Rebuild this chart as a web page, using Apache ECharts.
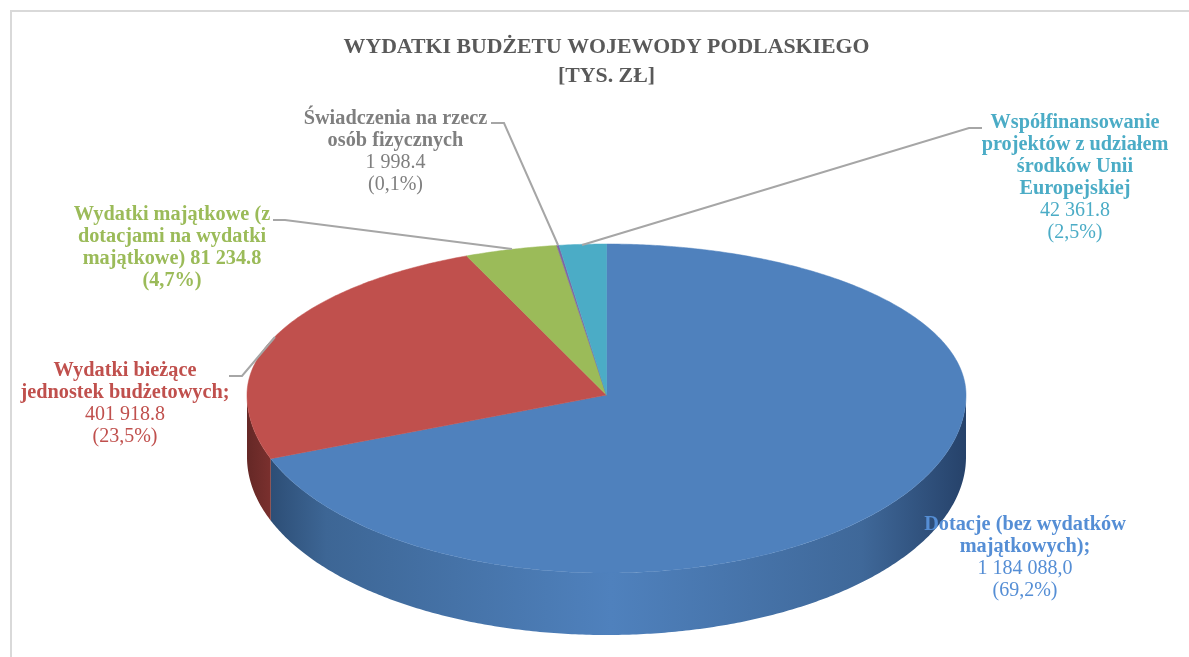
<!DOCTYPE html>
<html>
<head>
    <meta charset="utf-8">
    <title>Wydatki budżetu wojewody podlaskiego</title>
    <script src="https://cdn.jsdelivr.net/npm/echarts@6/dist/echarts.min.js"></script>
    <style>
        html, body { margin: 0; padding: 0; background: #fff; }
    </style>
</head>
<body>
    <div id="main" style="width:1189px;height:657px;"></div>
    <script type="text/javascript">
        var titleText = 'WYDATKI BUDŻETU WOJEWODY PODLASKIEGO\n[TYS. ZŁ]';

        // dane
        var categories = ['Dotacje', 'Wydatki bieżące', 'Wydatki majątkowe', 'Świadczenia', 'Współfinansowanie'];
        var values = [1184088.0, 401918.8, 81234.8, 1998.4, 42361.8];
        var boldLines = [
            ['Dotacje (bez wydatków', 'majątkowych);'],
            ['Wydatki bieżące', 'jednostek budżetowych;'],
            ['Wydatki majątkowe (z', 'dotacjami na wydatki', 'majątkowe) 81 234.8', '(4,7%)'],
            ['Świadczenia na rzecz', 'osób fizycznych'],
            ['Współfinansowanie', 'projektów z udziałem', 'środków Unii', 'Europejskiej']
        ];
        var plainLines = [
            ['1 184 088,0', '(69,2%)'],
            ['401 918.8', '(23,5%)'],
            [],
            ['1 998.4', '(0,1%)'],
            ['42 361.8', '(2,5%)']
        ];

        // kolory
        var sliceColors = ['#4F81BD', '#C0504D', '#9BBB59', '#8064A2', '#4BACC6'];
        var labelColors = ['#558ED5', '#C0504D', '#9BBB59', '#7F7F7F', '#4BACC6'];
        var sideStops = [
            [[0, '#2D4E76'], [0.08, '#3D6695'], [0.49, '#4F81BD'], [0.85, '#3F6899'], [1, '#26426A']],
            [[0, '#652826'], [1, '#7A302E']],
            [[0, '#6E8838'], [1, '#6E8838']],
            [[0, '#5C4776'], [1, '#5C4776']],
            [[0, '#2F7F95'], [1, '#2F7F95']]
        ];

        // układ: środek koła, promienie elipsy, grubość, skrót perspektywy z tyłu
        var cx = 606.5, cy = 395, rx = 359.5, ryTop = 151, ryBottom = 178, depth = 62, farSqueeze = 0.85;

        // pozycje podpisów (środek, pierwsza linia) i linii odniesienia
        var labelX = [1025, 125, 172, 395.5, 1075];
        var labelY = [525, 371, 215, 119, 123];
        var lineStep = 22;
        var leaders = [
            [],
            [[229, 376], [242, 376], [275, 337]],
            [[273, 220], [285, 220], [512, 249]],
            [[491, 123], [504, 123], [558, 245]],
            [[982, 128], [969, 128], [582, 245]]
        ];

        var total = values.reduce(function (a, b) { return a + b; }, 0);
        var startAngles = [];
        var sum = 0;
        for (var i = 0; i < values.length; i++) {
            startAngles.push(sum / total * 2 * Math.PI);
            sum += values[i];
        }

        function project(a, drop) {
            var u = Math.sin(a), v = Math.cos(a);
            if (v > 0) {
                var t = Math.atan2(u * farSqueeze, v);
                return [cx + rx * Math.sin(t), cy - ryTop * Math.cos(t) + (drop || 0)];
            }
            return [cx + rx * u, cy - ryBottom * v + (drop || 0)];
        }

        function arc(a0, a1, drop) {
            var n = Math.max(2, Math.ceil(Math.abs(a1 - a0) / 0.01));
            var pts = [];
            for (var k = 0; k <= n; k++) {
                pts.push(project(a0 + (a1 - a0) * k / n, drop));
            }
            return pts;
        }

        function renderSlice(params, api) {
            var idx = params.dataIndex;
            var a0 = startAngles[idx];
            var a1 = a0 + api.value(0) / total * 2 * Math.PI;
            var children = [];
            // bok widoczny tylko na przedniej połowie
            var s0 = Math.max(a0, Math.PI / 2), s1 = Math.min(a1, Math.PI * 1.5);
            if (s1 > s0) {
                children.push({
                    type: 'polygon',
                    shape: { points: arc(s0, s1, 0).concat(arc(s1, s0, depth)) },
                    style: {
                        fill: {
                            type: 'linear', x: 0, y: 0, x2: 1, y2: 0,
                            colorStops: sideStops[idx].map(function (s) {
                                return { offset: s[0], color: s[1] };
                            })
                        }
                    }
                });
            }
            children.push({
                type: 'polygon',
                z2: 2,
                shape: { points: [[cx, cy]].concat(arc(a0, a1, 0)) },
                style: { fill: sliceColors[idx], stroke: sliceColors[idx], lineWidth: 0.5 }
            });
            return { type: 'group', children: children };
        }

        function renderLabel(params) {
            var idx = params.dataIndex;
            var children = [];
            if (leaders[idx].length) {
                children.push({
                    type: 'polyline',
                    shape: { points: leaders[idx] },
                    style: { fill: 'none', stroke: '#A6A6A6', lineWidth: 2 }
                });
            }
            var y = labelY[idx];
            boldLines[idx].concat(plainLines[idx]).forEach(function (line, n) {
                var isBold = n < boldLines[idx].length;
                children.push({
                    type: 'text',
                    style: {
                        x: labelX[idx],
                        y: y + n * lineStep,
                        text: line,
                        fill: labelColors[idx],
                        align: 'center',
                        verticalAlign: 'middle',
                        font: (isBold ? 'bold 20.3px' : '20px') + ' "Liberation Serif"'
                    }
                });
            });
            return { type: 'group', children: children };
        }

        var myChart = echarts.init(document.getElementById('main'));

        var rows = categories.map(function (name, i) {
            return { name: name, value: [values[i]] };
        });

        var option = {
            backgroundColor: '#fff',
            animation: false,
            title: {
                text: titleText,
                left: 606.5,
                top: 33,
                padding: 0,
                textAlign: 'center',
                textStyle: {
                    color: '#595959',
                    fontFamily: 'Liberation Serif',
                    fontWeight: 'bold',
                    fontSize: 21.8,
                    lineHeight: 29
                }
            },
            graphic: [{
                type: 'polyline',
                silent: true,
                shape: { points: [[11, 657], [11, 11], [1189, 11]] },
                style: { fill: 'none', stroke: '#D9D9D9', lineWidth: 2 }
            }],
            series: [
                {
                    type: 'custom',
                    coordinateSystem: 'none',
                    silent: true,
                    z: 2,
                    renderItem: renderSlice,
                    data: rows
                },
                {
                    type: 'custom',
                    coordinateSystem: 'none',
                    silent: true,
                    z: 3,
                    renderItem: renderLabel,
                    data: rows
                }
            ]
        };

        myChart.setOption(option);
    </script>
</body>
</html>
